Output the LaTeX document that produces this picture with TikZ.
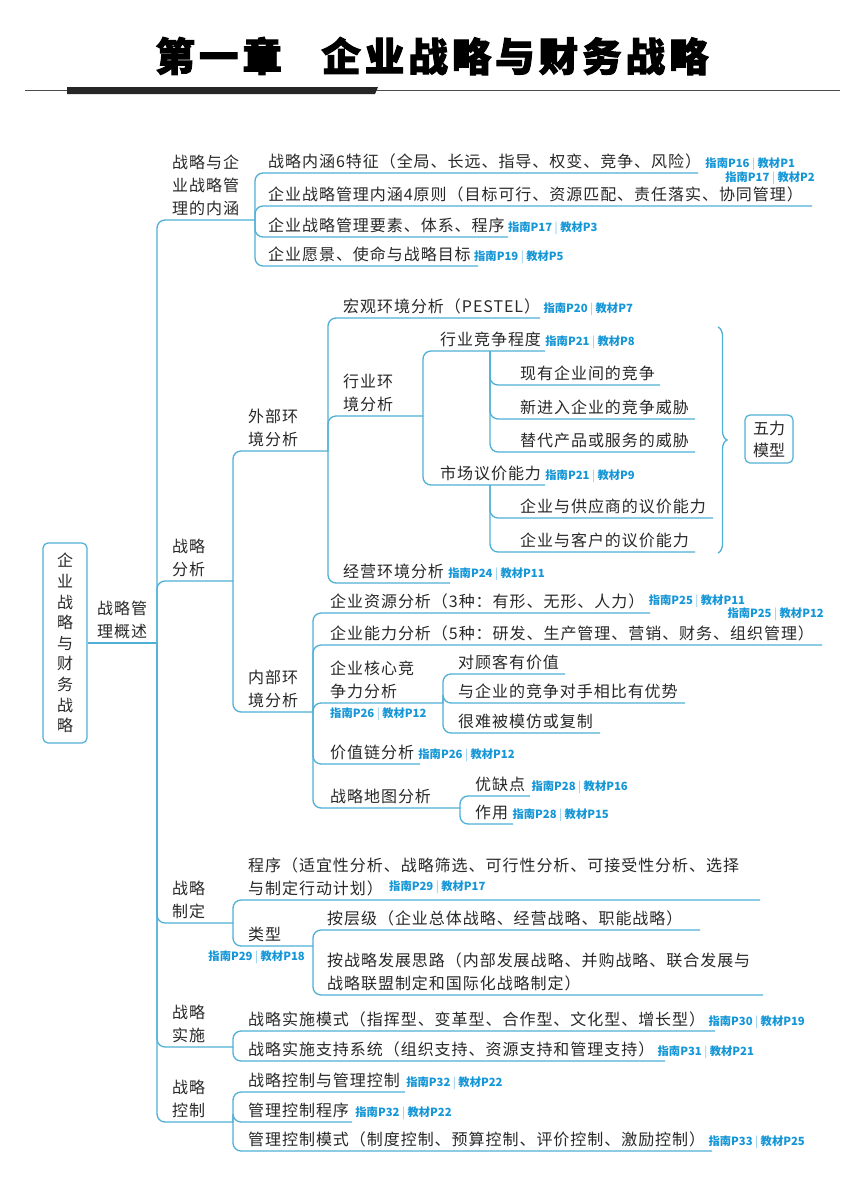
\documentclass[tikz,border=0pt]{standalone}
\usepackage{fontspec}
\usepackage{graphicx}
\setmainfont{Noto Sans CJK SC}
\newfontfamily\titlefont[FakeBold=2.5]{Noto Sans CJK SC}
\usetikzlibrary{decorations.pathreplacing}
\definecolor{linec}{RGB}{79,176,214}
\definecolor{lblc}{RGB}{20,150,215}
\definecolor{txtc}{RGB}{40,40,40}
\tikzset{
  txt/.style={inner sep=0pt, align=left, text=txtc,
    font=\fontsize{16}{23}\selectfont\addfontfeature{LetterSpace=6}},
  mmline/.style={draw=linec, line width=1.3pt, rounded corners=8pt},
  lbl/.style={inner sep=0pt, text=lblc, font=\fontsize{11.3}{13}\selectfont\bfseries},
  mmbox/.style={draw=linec, line width=1.2pt, rounded corners=5pt, inner sep=0pt,
    align=center, text=txtc},
  bracestyle/.style={draw=linec, line width=1.3pt, decorate,
    decoration={brace, amplitude=9pt}}
}
\newcommand\mmn[5]{\node[txt,anchor=south west] (#1) at (#2,#3-4) {#5};
  \coordinate (#1-r) at (#4,#3);}
\newcommand\lab[2]{指南P#1\hspace{2.5pt}{\color{lblc!55}\mdseries|}\hspace{2.5pt}教材P#2}
\newcommand\lk[2]{\draw[mmline] (#1) |- (#2-r);}
\begin{document}
\begin{tikzpicture}[x=1pt,y=-1pt]
\useasboundingbox (0,0) rectangle (863,1181);
\fill[white] (0,0) rectangle (863,1181);

% title
\node[inner sep=0pt, text=black, font=\titlefont\bfseries\fontsize{39.5}{42}\selectfont\addfontfeature{LetterSpace=10}] (title) at (432,56) {第一章\hspace{1em}企业战略与财务战略};
\draw[line width=1pt, black!70] (25,90) -- (840,90);
\fill[black!85] (67,87) -- (378,87) -- (375,94) -- (67,94) -- cycle;

% root
\node[mmbox, minimum width=44, minimum height=200, font=\fontsize{16}{20.6}\selectfont] (root) at (65,643) {企\\业\\战\\略\\与\\财\\务\\战\\略};

\mmn{gl}{97}{643}{157}{战略管\\理概述}
\draw[mmline] (root.east) -- (gl-r);

% level 2
\mmn{s1}{172}{220}{255}{战略与企\\业战略管\\理的内涵}
\mmn{s2}{172}{581}{233}{战略\\分析}
\mmn{s3}{172}{923}{233}{战略\\制定}
\mmn{s4}{172}{1047}{233}{战略\\实施}
\mmn{s5}{172}{1122}{233}{战略\\控制}
\lk{gl-r}{s1}\lk{gl-r}{s2}\lk{gl-r}{s3}\lk{gl-r}{s4}\lk{gl-r}{s5}

% section 1
\mmn{a1}{268}{173}{698}{战略内涵6特征（全局、长远、指导、权变、竞争、风险）}
\mmn{a2}{268}{206}{812}{企业战略管理内涵4原则（目标可行、资源匹配、责任落实、协同管理）}
\mmn{a3}{268}{237}{508}{企业战略管理要素、体系、程序}
\mmn{a4}{268}{266}{478}{企业愿景、使命与战略目标}
\lk{s1-r}{a1}\lk{s1-r}{a2}\lk{s1-r}{a3}\lk{s1-r}{a4}
\node[lbl,anchor=base west] (l1) at ([xshift=4pt]a1.base east) {\lab{16}{1}};
\node[lbl,anchor=east] (l2) at (815,178) {\lab{17}{2}};
\node[lbl,anchor=base west] (l3) at ([xshift=3pt]a3.base east) {\lab{17}{3}};
\node[lbl,anchor=base west] (l4) at ([xshift=3pt]a4.base east) {\lab{19}{5}};

% strategy analysis
\mmn{ext}{248}{451}{328}{外部环\\境分析}
\mmn{int}{248}{712}{313}{内部环\\境分析}
\lk{s2-r}{ext}\lk{s2-r}{int}

\mmn{e1}{343}{318}{540}{宏观环境分析（PESTEL）}
\mmn{e2}{343}{416}{423}{行业环\\境分析}
\mmn{e3}{343}{583}{450}{经营环境分析}
\lk{ext-r}{e1}\lk{ext-r}{e2}\lk{ext-r}{e3}
\node[lbl,anchor=base west] (l5) at ([xshift=3pt]e1.base east) {\lab{20}{7}};
\node[lbl,anchor=base west] (l8) at ([xshift=4pt]e3.base east) {\lab{24}{11}};

\mmn{f1}{440}{351}{545}{行业竞争程度}
\mmn{f2}{440}{485}{545}{市场议价能力}
\coordinate (f1-j) at (490,351);
\coordinate (f2-j) at (490,485);
\lk{e2-r}{f1}\lk{e2-r}{f2}
\node[lbl,anchor=base west] (l6) at ([xshift=4pt]f1.base east) {\lab{21}{8}};
\node[lbl,anchor=base west] (l7) at ([xshift=4pt]f2.base east) {\lab{21}{9}};

\mmn{g1}{520}{385}{660}{现有企业间的竞争}
\mmn{g2}{520}{419}{695}{新进入企业的竞争威胁}
\mmn{g3}{520}{452}{695}{替代产品或服务的威胁}
\lk{f1-j}{g1}\lk{f1-j}{g2}\lk{f1-j}{g3}
\mmn{h1}{520}{518}{713}{企业与供应商的议价能力}
\mmn{h2}{520}{552}{695}{企业与客户的议价能力}
\lk{f2-j}{h1}\lk{f2-j}{h2}

\coordinate (btop) at (718,327);
\coordinate (bbot) at (718,553);
\draw[bracestyle] (btop) -- (bbot);
\node[mmbox, minimum width=48, minimum height=48, font=\fontsize{16}{22}\selectfont] (wl) at (769,439) {五力\\模型};

% internal
\mmn{i1}{330}{613}{650}{企业资源分析（3种：有形、无形、人力）}
\mmn{i2}{330}{645}{822}{企业能力分析（5种：研发、生产管理、营销、财务、组织管理）}
\mmn{i3}{330}{703}{443}{企业核心竞\\争力分析}
\mmn{i4}{330}{764}{420}{价值链分析}
\mmn{i5}{330}{808}{460}{战略地图分析}
\lk{int-r}{i1}\lk{int-r}{i2}\lk{int-r}{i3}\lk{int-r}{i4}\lk{int-r}{i5}
\node[lbl,anchor=base west] (l9) at ([xshift=4pt,yshift=3pt]i1.base east) {\lab{25}{11}};
\node[lbl,anchor=east] (l10) at (824,614) {\lab{25}{12}};
\node[lbl,anchor=west] (l11) at (330,714) {\lab{26}{12}};
\node[lbl,anchor=base west] (l12) at ([xshift=4pt]i4.base east) {\lab{26}{12}};

\mmn{c1}{458}{674}{565}{对顾客有价值}
\mmn{c2}{458}{703}{685}{与企业的竞争对手相比有优势}
\mmn{c3}{458}{733}{600}{很难被模仿或复制}
\lk{i3-r}{c1}\lk{i3-r}{c2}\lk{i3-r}{c3}

\mmn{m1}{475}{796}{530}{优缺点}
\mmn{m2}{475}{824}{513}{作用}
\lk{i5-r}{m1}\lk{i5-r}{m2}
\node[lbl,anchor=base west] (l13) at ([xshift=6pt]m1.base east) {\lab{28}{16}};
\node[lbl,anchor=base west] (l14) at ([xshift=4pt]m2.base east) {\lab{28}{15}};

% formulation
\mmn{p1}{248}{900}{760}{程序（适宜性分析、战略筛选、可行性分析、可接受性分析、选择\\与制定行动计划）}
\mmn{p2}{248}{946}{313}{类型}
\lk{s3-r}{p1}\lk{s3-r}{p2}
\node[lbl,anchor=west] (l15) at (389,887) {\lab{29}{17}};
\node[lbl,anchor=east] (l16) at (305,957) {\lab{29}{18}};
\mmn{q1}{327}{930}{700}{按层级（企业总体战略、经营战略、职能战略）}
\mmn{q2}{327}{995}{763}{按战略发展思路（内部发展战略、并购战略、联合发展与\\战略联盟制定和国际化战略制定）}
\lk{p2-r}{q1}\lk{p2-r}{q2}

% implementation
\mmn{r1}{248}{1031}{715}{战略实施模式（指挥型、变革型、合作型、文化型、增长型）}
\mmn{r2}{248}{1061}{665}{战略实施支持系统（组织支持、资源支持和管理支持）}
\lk{s4-r}{r1}\lk{s4-r}{r2}
\node[lbl,anchor=base west] (l17) at ([xshift=3pt]r1.base east) {\lab{30}{19}};
\node[lbl,anchor=base west] (l18) at ([xshift=3pt]r2.base east) {\lab{31}{21}};

% control
\mmn{k1}{248}{1092}{405}{战略控制与管理控制}
\mmn{k2}{248}{1122}{352}{管理控制程序}
\mmn{k3}{248}{1151}{712}{管理控制模式（制度控制、预算控制、评价控制、激励控制）}
\lk{s5-r}{k1}\lk{s5-r}{k2}\lk{s5-r}{k3}
\node[lbl,anchor=base west] (l19) at ([xshift=6pt]k1.base east) {\lab{32}{22}};
\node[lbl,anchor=base west] (l20) at ([xshift=6pt]k2.base east) {\lab{32}{22}};
\node[lbl,anchor=base west] (l21) at ([xshift=3pt]k3.base east) {\lab{33}{25}};
\end{tikzpicture}
\end{document}
